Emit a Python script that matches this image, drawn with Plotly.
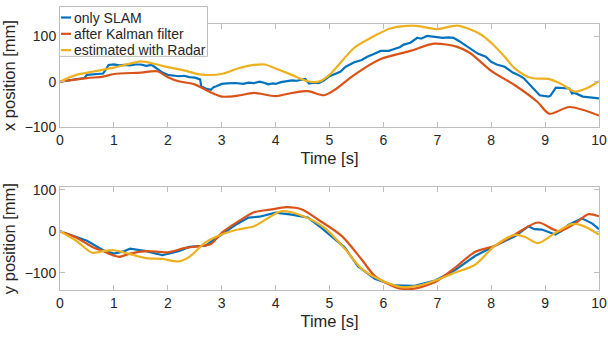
import plotly.graph_objects as go

# ---------------- data ----------------
series_names = ["only SLAM", "after Kalman filter", "estimated with Radar"]
colors = ["#0072BD", "#D95319", "#EDB120"]

# top panel: x position [mm]
x_slam_t = [0, 0.2, 0.3, 0.45, 0.5, 0.7, 0.8, 0.85, 0.9, 1.0,
            1.1, 1.2, 1.3, 1.4, 1.5, 1.6, 1.7, 1.75, 1.8, 1.9,
            2.0, 2.1, 2.2, 2.3, 2.4, 2.5, 2.6, 2.62, 2.7, 2.8,
            2.85, 2.9, 3.0, 3.1, 3.25, 3.4, 3.5, 3.6, 3.7, 3.8,
            3.86, 3.95, 4.0, 4.1, 4.2, 4.3, 4.4, 4.55, 4.62, 4.7,
            4.8, 4.9, 5.0, 5.1, 5.2, 5.3, 5.46, 5.6, 5.7, 5.8,
            5.95, 6.1, 6.2, 6.3, 6.38, 6.5, 6.63, 6.7, 6.81, 6.9,
            7.0, 7.1, 7.2, 7.3, 7.4, 7.5, 7.6, 7.75, 7.9, 8.0,
            8.1, 8.25, 8.4, 8.5, 8.6, 8.75, 8.9, 9.06, 9.1, 9.2,
            9.35, 9.45, 9.5, 9.55, 9.7, 9.85, 10]
x_slam_v = [0, 3, 5, 8, 15, 16, 18, 27, 37, 38,
            36, 37, 36, 38, 38, 35, 37, 33, 28, 20,
            15, 14, 12, 13, 10, 9, 5, -10, -15, -18,
            -12, -10, -5, -4, -3, -5, -2, -3, 0, -3,
            -6, -4, -5, -1, 1, 3, 2, 6, -4, -2,
            -3, 3, 12, 17, 22, 33, 43, 48, 55, 60,
            68, 68, 72, 76, 82, 86, 97, 95, 101, 100,
            98, 97, 98, 97, 90, 82, 75, 62, 55, 44,
            38, 33, 20, 15, 8, -10, -30, -33, -31, -13,
            -15, -15, -26, -25, -33, -35, -37]

x_kal_t = [0, 0.5, 0.8, 1.0, 1.5, 1.8, 2.0, 2.2, 2.5, 2.8, 3.0, 3.3, 3.6, 4.0, 4.3, 4.6, 4.9, 5.1,
           5.46, 5.95, 6.5, 6.94, 7.37, 7.6, 8.0, 8.44, 8.86, 9.08, 9.45, 10]
x_kal_v = [0, 8, 11, 17, 20, 23, 10, 1, -6, -24, -33, -31, -25, -32, -25, -21, -30, -18,
           15, 50, 68, 84, 77, 64, 24, -8, -45, -71, -56, -75]

x_rad_t = [0, 0.3, 0.6, 1.0, 1.3, 1.5, 1.8, 2.0, 2.3, 2.6, 3.0, 3.3, 3.6, 3.8, 4.0, 4.3, 4.6, 4.8,
           5.0, 5.46, 5.77, 6.14, 6.57, 7.0, 7.37, 7.8, 8.0, 8.25, 8.44, 8.75, 9.06, 9.3, 9.55, 9.8, 10]
x_rad_v = [0, 15, 22, 31, 40, 45, 38, 32, 25, 16, 17, 29, 37, 38, 29, 15, 1, 0,
           15, 75, 97, 118, 124, 116, 124, 105, 86, 55, 29, 8, 6, -5, -22, -13, 1]

# bottom panel: y position [mm]
y_slam_t = [0, 0.5, 0.8, 1.0, 1.2, 1.3, 1.6, 1.9, 2.2, 2.4, 2.7, 3.0, 3.25, 3.5, 3.7, 4.0, 4.3, 4.6,
            4.85, 5.28, 5.53, 5.84, 6.2, 6.58, 6.96, 7.33, 7.7, 8.07, 8.44, 8.69, 8.8, 8.94, 9.19,
            9.3, 9.43, 9.68, 9.87, 10]
y_slam_v = [0, -23, -46, -54, -48, -42, -48, -58, -48, -38, -35, -8, 15, 33, 35, 45, 40, 33,
            8, -39, -85, -115, -131, -132, -119, -94, -60, -35, -12, 12, 5, 4, -8,
            0, 15, 31, 19, 5]

y_kal_t = [0, 0.3, 0.6, 0.8, 1.0, 1.1, 1.3, 1.6, 2.0, 2.3, 2.6, 2.8, 3.0, 3.3, 3.6, 3.9, 4.2, 4.5,
           4.8, 5.23, 5.6, 5.84, 6.22, 6.5, 6.96, 7.33, 7.7, 8.07, 8.44, 8.87, 9.25, 9.56, 9.8, 10]
y_kal_v = [0, -15, -38, -48, -59, -62, -54, -48, -51, -41, -36, -31, -4, 23, 46, 52, 58, 52,
           27, -12, -69, -108, -135, -140, -123, -88, -50, -35, -8, 21, 0, 19, 41, 36]

y_rad_t = [0, 0.3, 0.6, 0.8, 1.0, 1.2, 1.6, 1.9, 2.2, 2.4, 2.7, 3.0, 3.3, 3.6, 3.9, 4.1, 4.48, 4.91,
           5.28, 5.6, 5.9, 6.33, 6.64, 6.96, 7.33, 7.7, 8.07, 8.44, 8.63, 8.87, 9.19, 9.5, 9.68, 10]
y_rad_v = [0, -23, -52, -48, -46, -52, -65, -67, -73, -62, -27, -8, 4, 12, 35, 48, 38, 8,
           -42, -91, -115, -135, -132, -119, -100, -81, -35, -9, -14, -29, -4, 17, 14, -8]

x_ticks = list(range(0, 11))
y_ticks = [-100, 0, 100]

# ---------------- figure ----------------
W, H = 608, 345
L, R = 60, 9
FONT = "Liberation Sans, Arial, Helvetica, sans-serif"
TXT = "#262626"
AX = "#bdbdbd"

fig = go.Figure()
top = [(x_slam_t, x_slam_v, "linear"), (x_kal_t, x_kal_v, "spline"), (x_rad_t, x_rad_v, "spline")]
bot = [(y_slam_t, y_slam_v, "linear"), (y_kal_t, y_kal_v, "spline"), (y_rad_t, y_rad_v, "spline")]
for i, (t, v, shp) in enumerate(top):
    fig.add_trace(go.Scatter(x=t, y=v, mode="lines", name=series_names[i], showlegend=False,
                             line=dict(color=colors[i], width=2.2, shape=shp, smoothing=0.8),
                             xaxis="x", yaxis="y"))
for i, (t, v, shp) in enumerate(bot):
    fig.add_trace(go.Scatter(x=t, y=v, mode="lines", name=series_names[i], showlegend=False,
                             line=dict(color=colors[i], width=2.2, shape=shp, smoothing=0.8),
                             xaxis="x2", yaxis="y2"))

def py(p):
    return 1 - p / H

def px(p):
    return (p - L) / (W - L - R)

axis_common = dict(showgrid=False, zeroline=False, showline=True, linecolor=AX, linewidth=1,
                   mirror="ticks", ticks="inside", ticklen=5, tickcolor=AX, tickwidth=1,
                   tickfont=dict(family=FONT, size=14, color=TXT))

fig.update_layout(
    width=W, height=H, margin=dict(l=L, r=R, t=0, b=0),
    paper_bgcolor="white", plot_bgcolor="white",
    xaxis=dict(domain=[0, 1], range=[0, 10], tickvals=x_ticks, anchor="y",
               title=dict(text="Time [s]", font=dict(family=FONT, size=16.5, color=TXT), standoff=5),
               **axis_common),
    yaxis=dict(domain=[py(126), py(19)], range=[-100, 127], tickvals=y_ticks, anchor="x",
               title=dict(text="x position [mm]", font=dict(family=FONT, size=16.5, color=TXT), standoff=4),
               **axis_common),
    xaxis2=dict(domain=[0, 1], range=[0, 10], tickvals=x_ticks, anchor="y2",
                title=dict(text="Time [s]", font=dict(family=FONT, size=16.5, color=TXT), standoff=5),
                **axis_common),
    yaxis2=dict(domain=[py(296), py(189)], range=[-142, 106], tickvals=y_ticks, anchor="x2",
                title=dict(text="y position [mm]", font=dict(family=FONT, size=16.5, color=TXT), standoff=4),
                **axis_common),
)

# legend drawn as a box with line samples and labels
shapes = [dict(type="rect", xref="paper", yref="paper", x0=px(59.5), x1=px(207.5), y0=py(52.5), y1=py(0.5),
               line=dict(color=AX, width=1), fillcolor="white", layer="above")]
annotations = []
rows = [12, 29, 46]
for i, name in enumerate(series_names):
    shapes.append(dict(type="line", xref="paper", yref="paper", x0=px(61), x1=px(71),
                       y0=py(rows[i]), y1=py(rows[i]), line=dict(color=colors[i], width=2.2), layer="above"))
    annotations.append(dict(xref="paper", yref="paper", x=px(72), y=py(rows[i]), text=name,
                            showarrow=False, xanchor="left", yanchor="middle",
                            font=dict(family=FONT, size=14, color=TXT)))
fig.update_layout(shapes=shapes, annotations=annotations)

fig.write_html("out.html")
